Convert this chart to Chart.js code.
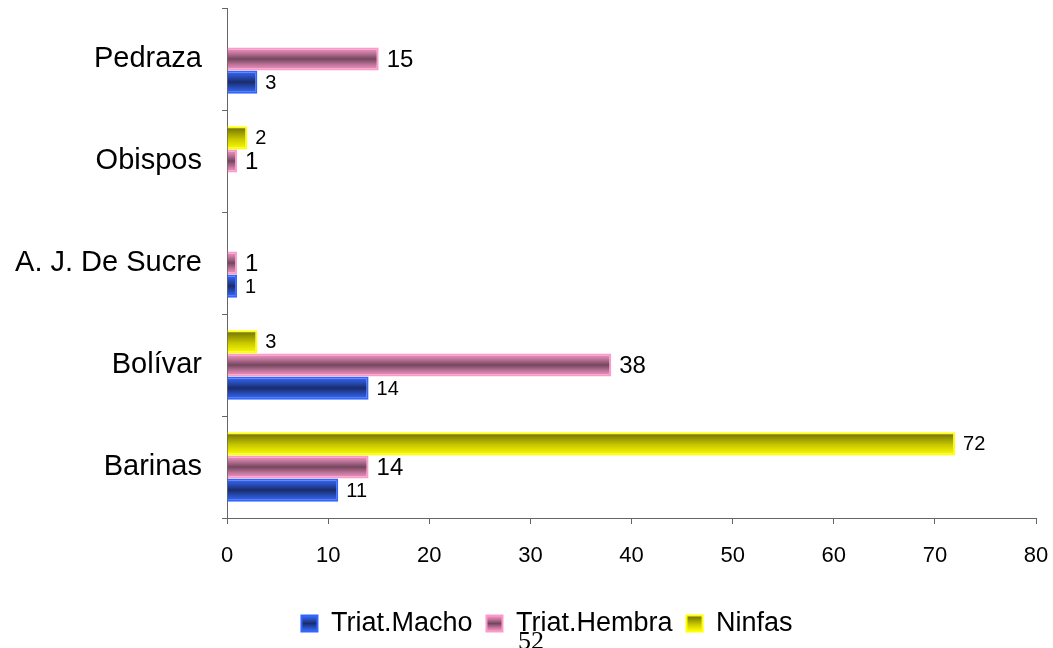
<!DOCTYPE html>
<html>
<head>
<meta charset="utf-8">
<title>Triatominos por municipio</title>
<script src="https://cdn.jsdelivr.net/npm/chart.js@4.4.0/dist/chart.umd.min.js"></script>
<style>
  html, body { margin: 0; padding: 0; background: #fff; }
  #wrap { position: relative; width: 1053px; height: 648px; overflow: hidden; }
  #pageNo {
    position: absolute; left: 518px; top: 628px;
    font-family: 'Liberation Serif', 'Times New Roman', serif;
    font-size: 26px; line-height: 1; color: #000;
  }
</style>
</head>
<body>
<div id="wrap">
  <canvas id="chart" width="1053" height="648"></canvas>
  <div id="pageNo">52</div>
</div>
<script>
// categories top to bottom, as they appear on the chart
const categories = ['Pedraza', 'Obispos', 'A. J. De Sucre', 'Bolívar', 'Barinas'];
const macho  = [3, null, 1, 14, 11];
const hembra = [15, 1, 1, 38, 14];
const ninfas = [null, 2, null, 3, 72];

Chart.defaults.font.family = "'Liberation Sans', Arial, sans-serif";
Chart.defaults.color = '#000';

function shadeFill(ctx, stops, top, h) {
  const g = ctx.createLinearGradient(0, top, 0, top + h);
  stops.forEach(s => g.addColorStop(s[0], s[1]));
  return g;
}

// fill every bar (and legend box) with a vertical gradient, like the 3D look of the original
const barShade = {
  id: 'barShade',
  afterLayout(chart) {
    // legend sits a bit right of the canvas centre in the original
    chart.legend.left += 29;
    chart.legend.right += 29;
  },
  beforeDraw(chart) {
    const lg = chart.legend;
    const ctx = chart.ctx;
    const fs = lg.options.labels.font.size, bh = lg.options.labels.boxHeight;
    lg.legendItems.forEach((item, k) => {
      const hb = lg.legendHitBoxes[k];
      const ds = chart.data.datasets[item.datasetIndex];
      item.fillStyle = shadeFill(ctx, ds.shade, hb.top + Math.max((fs - bh) / 2, 0), bh);
    });
  },
  beforeDatasetsDraw(chart) {
    const ctx = chart.ctx;
    chart.data.datasets.forEach((ds, i) => {
      chart.getDatasetMeta(i).data.forEach(bar => {
        const top = bar.y - bar.height / 2;
        if (!isFinite(top) || !bar.height) return;
        bar.options.backgroundColor = shadeFill(ctx, ds.shade, top, bar.height);
      });
    });
  }
};

// value next to the end of each bar
const valueLabels = {
  id: 'valueLabels',
  afterDatasetsDraw(chart) {
    const ctx = chart.ctx;
    chart.data.datasets.forEach((ds, i) => {
      const meta = chart.getDatasetMeta(i);
      ctx.save();
      ctx.font = ds.labelSize + "px 'Liberation Sans', Arial, sans-serif";
      ctx.fillStyle = '#000';
      ctx.textAlign = 'left';
      ctx.textBaseline = 'middle';
      meta.data.forEach((bar, j) => {
        const v = ds.data[j];
        if (v == null) return;
        ctx.fillText(String(v), bar.x + 8, bar.y + 1);
      });
      ctx.restore();
    });
  }
};

new Chart(document.getElementById('chart'), {
  type: 'bar',
  data: {
    labels: categories,
    datasets: [
      {
        label: 'Ninfas',
        data: ninfas,
        backgroundColor: () => '#9a9a00',
        borderColor: '#ffff00',
        borderWidth: 2,
        shade: [[0, '#6a6a00'], [0.55, '#c8c800'], [1, '#ffff00']],
        labelSize: 20
      },
      {
        label: 'Triat.Hembra',
        data: hembra,
        backgroundColor: () => '#7a4a63',
        borderColor: '#ff99cc',
        borderWidth: 2,
        shade: [[0, '#ff99cc'], [0.22, '#c77aa0'], [0.5, '#74465e'], [0.78, '#c77aa0'], [1, '#ff99cc']],
        labelSize: 24
      },
      {
        label: 'Triat.Macho',
        data: macho,
        backgroundColor: () => '#1c2f70',
        borderColor: '#3366ff',
        borderWidth: 2,
        shade: [[0, '#3a6cff'], [0.22, '#2a52c8'], [0.5, '#1a2c6a'], [0.78, '#2a52c8'], [1, '#3a6cff']],
        labelSize: 20
      }
    ]
  },
  options: {
    indexAxis: 'y',
    responsive: false,
    animation: false,
    layout: { padding: { left: 0, right: 17, top: 8, bottom: 1 } },
    datasets: { bar: { categoryPercentage: 0.68, barPercentage: 1.0 } },
    scales: {
      y: {
        afterFit: s => { s.width = 227; s.paddingTop = 0; s.paddingBottom = 0; },
        grid: { drawOnChartArea: false, tickLength: 5, color: '#666', offset: true },
        border: { color: '#666' },
        ticks: { color: '#000', font: { size: 29 }, padding: 20 }
      },
      x: {
        min: 0,
        max: 80,
        afterFit: s => { s.height = 78; s.paddingLeft = 0; s.paddingRight = 0; },
        grid: { drawOnChartArea: false, tickLength: 6, color: '#666' },
        border: { color: '#666' },
        ticks: { stepSize: 10, color: '#000', font: { size: 22 }, padding: 19 }
      }
    },
    plugins: {
      legend: {
        position: 'bottom',
        reverse: true,
        labels: { boxWidth: 16, boxHeight: 16, padding: 14, color: '#000', font: { size: 27 } }
      },
      tooltip: { enabled: false }
    }
  },
  plugins: [barShade, valueLabels]
});
</script>
</body>
</html>
